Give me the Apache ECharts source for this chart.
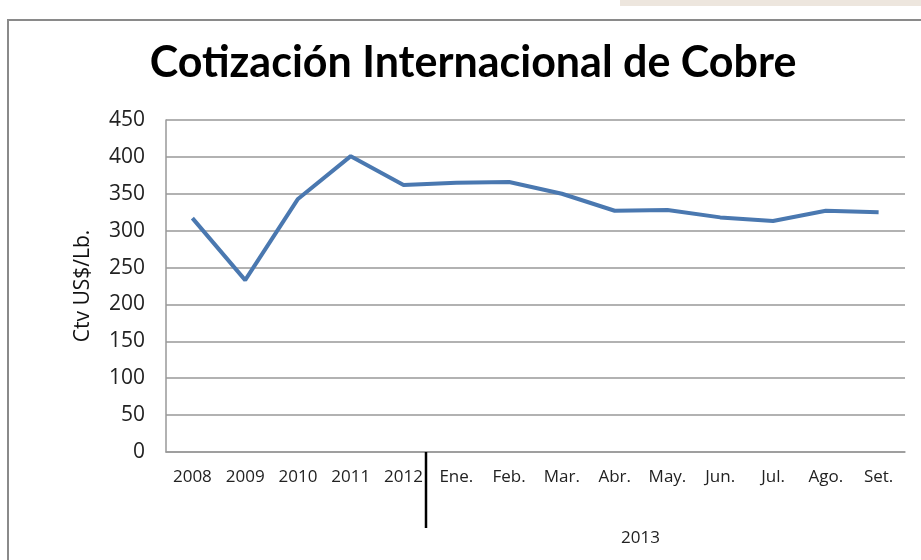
<!DOCTYPE html>
<html>
<head>
<meta charset="utf-8">
<script src="https://cdn.jsdelivr.net/npm/echarts@6/dist/echarts.min.js"></script>
<style>
  html, body { margin: 0; padding: 0; background: #fff; }
  #chart { width: 921px; height: 560px; }
</style>
</head>
<body>
<div id="chart"></div>
<script>
var categories = ['2008', '2009', '2010', '2011', '2012', 'Ene.', 'Feb.', 'Mar.', 'Abr.', 'May.', 'Jun.', 'Jul.', 'Ago.', 'Set.'];
var cobre = [317, 233, 343, 401, 362, 365, 366, 350, 327, 328, 318, 313, 327, 325];
var yearLabel = '2013';

var myChart = echarts.init(document.getElementById('chart'));

var option = {
    backgroundColor: '#fff',
    animation: false,
    title: {
        text: 'Cotización Internacional de Cobre',
        left: 468,
        top: 37,
        textAlign: 'center',
        textStyle: {
            fontFamily: 'Lato',
            fontWeight: 'bold',
            fontSize: 43,
            color: '#000'
        }
    },
    grid: {
        left: 166,
        right: 16,
        top: 120,
        bottom: 108
    },
    xAxis: {
        type: 'category',
        data: categories,
        boundaryGap: true,
        axisLine: { lineStyle: { color: '#999', width: 1.5 } },
        axisTick: { show: false },
        axisLabel: {
            color: '#222',
            fontFamily: 'Open Sans',
            fontSize: 17,
            margin: 17,
            interval: 0
        }
    },
    yAxis: {
        type: 'value',
        min: 0,
        max: 450,
        interval: 50,
        name: 'Ctv US$/Lb.',
        nameLocation: 'middle',
        nameGap: 72,
        nameTextStyle: { color: '#111', fontFamily: 'Open Sans', fontSize: 21 },
        axisLine: { show: true, lineStyle: { color: '#999', width: 1.5 } },
        axisTick: { show: false },
        splitLine: { lineStyle: { color: '#999', width: 1.5 } },
        axisLabel: {
            color: '#222',
            fontFamily: 'Open Sans',
            fontSize: 21,
            margin: 21
        }
    },
    graphic: [
        {
            type: 'rect',
            shape: { x: 8, y: 20, width: 940, height: 580 },
            style: { fill: 'none', stroke: '#8a8a8a', lineWidth: 2 },
            z: 0
        },
        {
            type: 'rect',
            shape: { x: 620, y: 0, width: 301, height: 6 },
            style: { fill: '#ede6de' }
        },
        {
            type: 'line',
            shape: { x1: 426, y1: 452, x2: 426, y2: 528 },
            style: { stroke: '#000', lineWidth: 2.5 },
            z: 10
        },
        {
            type: 'text',
            left: 621,
            top: 530,
            style: {
                text: yearLabel,
                fill: '#222',
                font: '17px "Open Sans"'
            }
        }
    ],
    series: [
        {
            name: 'Cobre',
            type: 'line',
            data: cobre,
            symbol: 'none',
            lineStyle: { color: '#4a78b0', width: 4 }
        }
    ]
};

myChart.setOption(option);
</script>
</body>
</html>
